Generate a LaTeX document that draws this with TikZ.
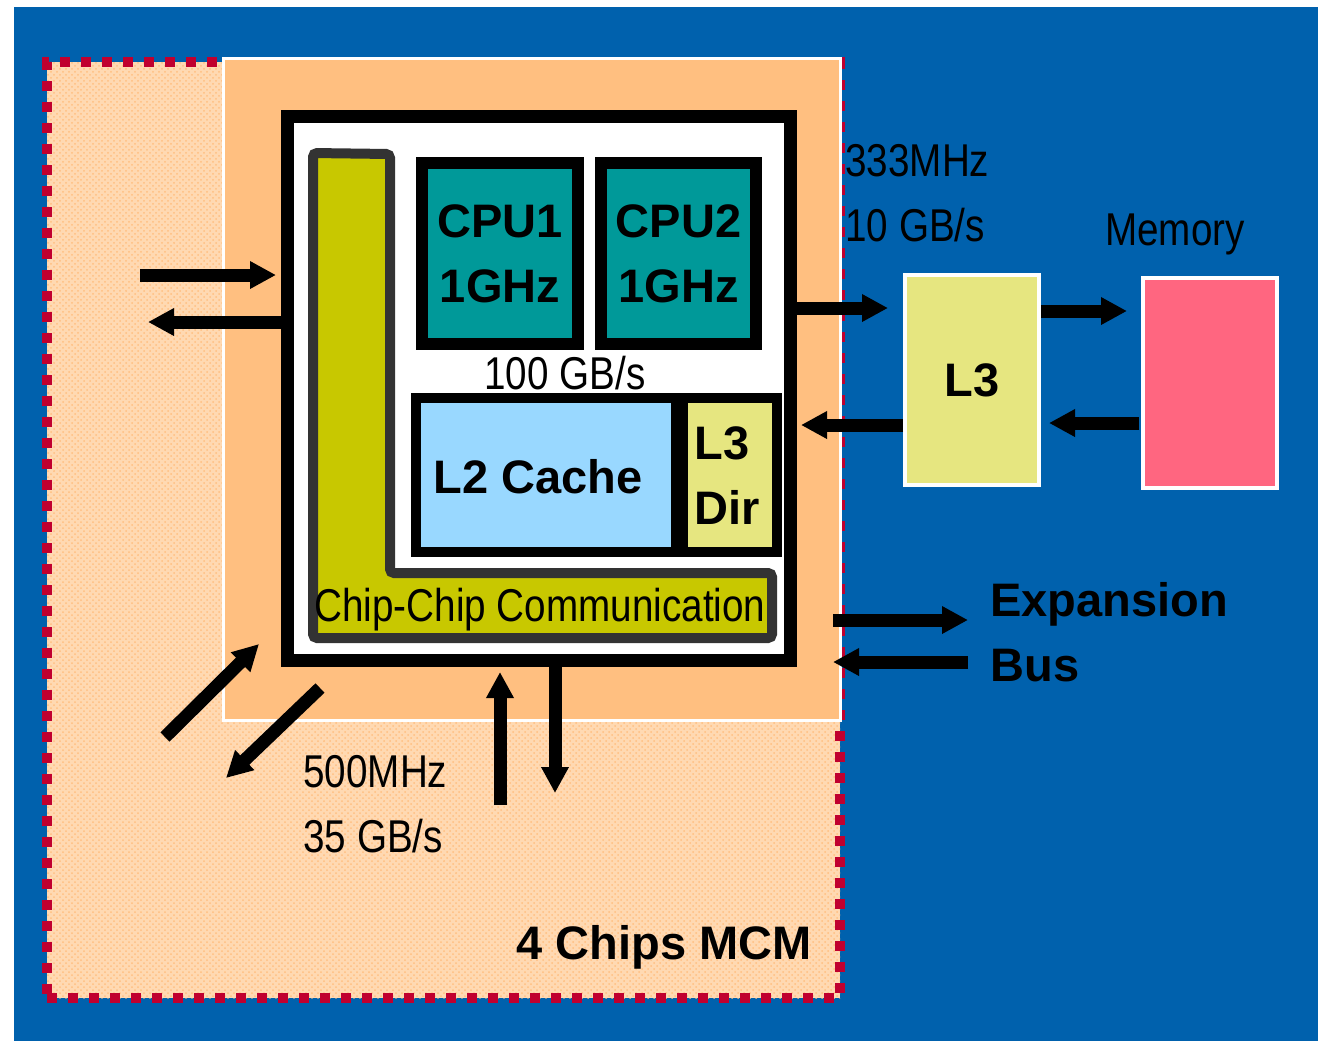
\documentclass[tikz,border=0pt]{standalone}
\usepackage{fontspec}
\setmainfont{Liberation Sans}
\newfontfamily\narrowfont[FakeStretch=0.84]{Liberation Sans}
\usetikzlibrary{arrows.meta,positioning,patterns}
\definecolor{bgblue}{HTML}{0061AD}
\definecolor{mcmfill}{HTML}{FFD9B2}
\definecolor{mcmred}{HTML}{C0002F}
\definecolor{chiporange}{HTML}{FFBF80}
\definecolor{cputeal}{HTML}{009999}
\definecolor{commolive}{HTML}{C8C800}
\definecolor{commgray}{HTML}{333333}
\definecolor{cacheblue}{HTML}{99D8FF}
\definecolor{lthree}{HTML}{E6E680}
\definecolor{mempink}{HTML}{FF6680}
\newcommand{\bigbold}{\fontsize{23.5}{32.5}\selectfont\bfseries}
\newcommand{\bignarrow}{\fontsize{23}{32.5}\selectfont\narrowfont}
\tikzset{
  mcm/.style={rectangle, draw=mcmred, line width=5pt,
              dash pattern=on 5pt off 5.5pt, inner sep=0pt},
  chiparea/.style={rectangle, draw=white, fill=chiporange, line width=1.5pt, inner sep=0pt},
  chipbox/.style={rectangle, draw=black, fill=white, line width=6.5pt, inner sep=0pt},
  cpu/.style={rectangle, draw=black, fill=cputeal, line width=6pt, inner sep=0pt,
              align=center, font=\bigbold},
  cache/.style={rectangle, draw=black, line width=5pt, inner sep=0pt, font=\bigbold},
  ext/.style={rectangle, draw=white, line width=2pt, inner sep=0pt, font=\bigbold},
  comm/.style={draw=commgray, fill=commolive, line width=5pt, rounded corners=2pt},
  blbl/.style={inner sep=0pt, font=\bigbold, align=left},
  nlbl/.style={inner sep=0pt, font=\bignarrow},
  bigarr/.style={-{Triangle[length=13pt,width=13pt]}, line width=6.5pt},
}
\begin{document}
\begin{tikzpicture}[x=0.5pt,y=-0.5pt]
\useasboundingbox (0,0) rectangle (1318,1041);
\fill[bgblue] (14,7) rectangle (1318,1041);

% ---------- module and chip ----------
\fill[mcmfill] (47,62) rectangle (840,998);
\fill[pattern=crosshatch dots, pattern color=chiporange] (47,62) rectangle (840,998);
\node[mcm,minimum width=396.5pt,minimum height=468pt] (mcm) at (443.5,530) {};
\node[chiparea,minimum width=308.5pt,minimum height=331pt] (area) at (532,389.5) {};
\node[chipbox,minimum width=251.5pt,minimum height=272pt] (chip) at (539,388.5) {};

% ---------- chip-chip communication ----------
\draw[comm] (313,153) -- (390,154) -- (390,573) -- (772,573) -- (772,638) -- (313,638) -- cycle;
\node[nlbl,anchor=base] (cc) at (540,621) {Chip-Chip Communication};

% ---------- cpus and caches ----------
\node[cpu,minimum width=78pt,minimum height=90.5pt] (cpu1) at (500,253.5) {CPU1\\1GHz};
\node[cpu,minimum width=77.5pt,minimum height=90.5pt] (cpu2) at (678.5,253.5) {CPU2\\1GHz};
\node[nlbl,anchor=base] (bw) at (565,389) {100 GB/s};
\node[cache,fill=cacheblue,minimum width=130pt,minimum height=77pt] (l2) at (546,475) {};
\node[blbl,anchor=base] (l2t) at (538,493) {L2 Cache};
\node[cache,fill=lthree,minimum width=47pt,minimum height=77pt] (dir) at (730,475) {};
\node[blbl,anchor=base west] (dirt) at (694,524) {L3\\Dir};

% ---------- off-chip L3 and memory ----------
\node[ext,fill=lthree,minimum width=67pt,minimum height=105pt] (l3) at (972,380) {L3};
\node[ext,fill=mempink,minimum width=67pt,minimum height=105pt] (mem) at (1210,383) {};
\node[nlbl,anchor=base] (memt) at (1175,245) {Memory};
\node[nlbl,anchor=base west] (f1) at (845,176) {333MHz};
\node[nlbl,anchor=base west] (b1) at (845,241) {10 GB/s};

\coordinate (pa) at (888,308);
\coordinate (pb) at (801,425);
\draw[bigarr] (chip.east |- pa) -- (pa);
\draw[bigarr] (l3.west |- pb) -- (pb);
\draw[bigarr] (l3.east |- 0,311) -- ([xshift=-7pt]mem.west |- 0,311);
\draw[bigarr] ([xshift=-1pt]mem.west |- 0,423) -- ([xshift=4pt]l3.east |- 0,423);

% ---------- expansion bus ----------
\coordinate (ea) at (833,620);
\coordinate (eb) at (968,620);
\coordinate (ec) at (968,662);
\coordinate (ed) at (833,662);
\draw[bigarr] (ea) -- (eb);
\draw[bigarr] (ec) -- (ed);
\node[blbl,anchor=base west] (exp) at (990,681) {Expansion\\Bus};

% ---------- links to other chips ----------
\coordinate (la) at (140,275);
\coordinate (lb) at (148,322);
\draw[bigarr] (la) -- ([xshift=-2.5pt]la -| chip.west);
\draw[bigarr] (chip.west |- lb) -- (lb);
\coordinate (da) at (165,737);
\coordinate (db) at (259,644);
\coordinate (dc) at (320,688);
\coordinate (dd) at (226,778);
\draw[bigarr] (da) -- (db);
\draw[bigarr] (dc) -- (dd);
\coordinate (ua) at (500,805);
\coordinate (ub) at (555,793);
\draw[bigarr] (ua) -- ([yshift=-2.5pt]ua |- chip.south);
\draw[bigarr] (ub |- chip.south) -- (ub);
\node[nlbl,anchor=base west] (f2) at (303,787) {500MHz};
\node[nlbl,anchor=base west] (b2) at (303,852) {35 GB/s};

\node[blbl,anchor=base east] (mcmt) at (812,959) {4 Chips MCM};
\end{tikzpicture}
\end{document}
